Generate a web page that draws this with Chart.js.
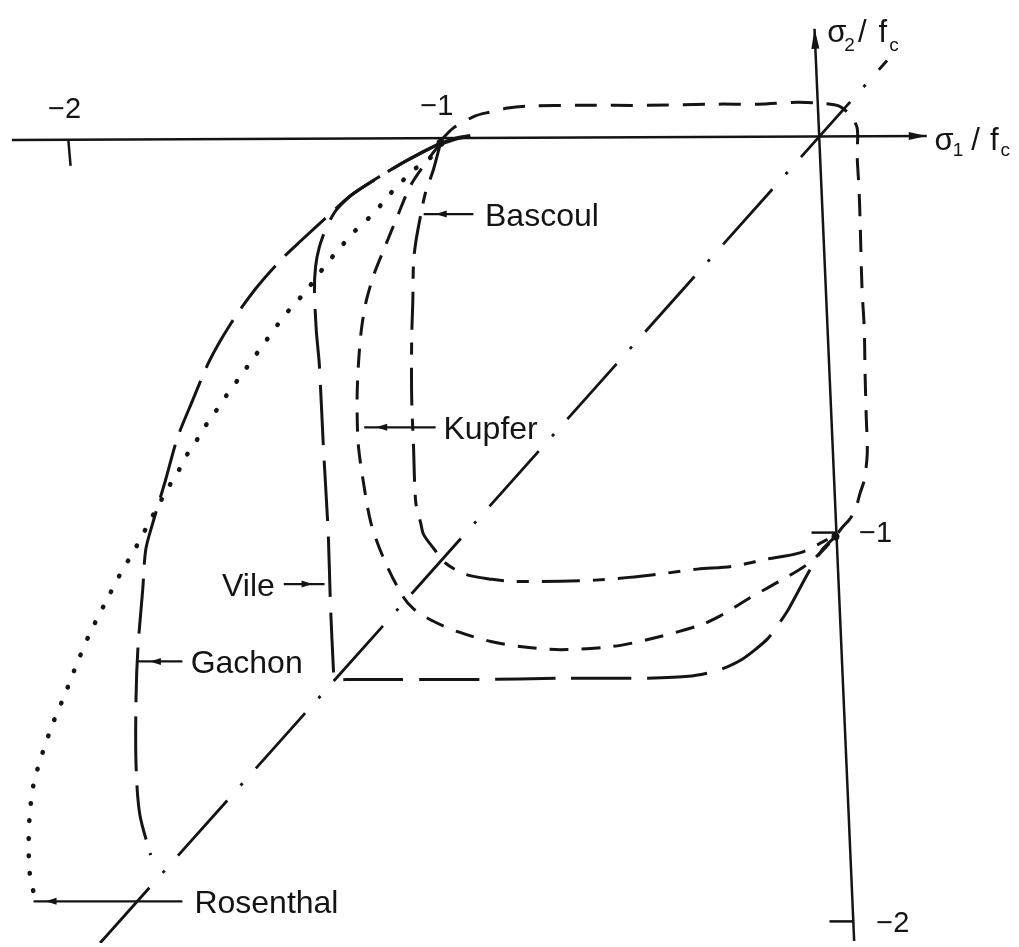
<!DOCTYPE html>
<html>
<head>
<meta charset="utf-8">
<script src="https://cdn.jsdelivr.net/npm/chart.js@4/dist/chart.umd.min.js"></script>
<style>
  html, body { margin: 0; padding: 0; background: #fff; }
  canvas { display: block; }
</style>
</head>
<body>
<canvas id="envelope" width="1019" height="947"></canvas>
<script>
// Biaxial failure envelopes, sigma1/fc against sigma2/fc (compression negative)

const rosenthalS1 = [-1.000, -1.034, -1.072, -1.106, -1.141, -1.178, -1.207, -1.239, -1.271, -1.305, -1.363, -1.401, -1.435, -1.469, -1.504, -1.538, -1.573, -1.605, -1.631, -1.655, -1.682, -1.703, -1.727, -1.775, -1.822, -1.849, -1.891, -1.939, -1.971, -2.005, -2.034, -2.064, -2.088, -2.098, -2.101, -2.098, -2.082];
const rosenthalS2 = [-0.008, -0.053, -0.076, -0.109, -0.144, -0.187, -0.212, -0.242, -0.278, -0.316, -0.389, -0.429, -0.470, -0.515, -0.561, -0.606, -0.652, -0.697, -0.732, -0.770, -0.808, -0.848, -0.884, -0.967, -1.051, -1.093, -1.169, -1.260, -1.331, -1.414, -1.480, -1.561, -1.641, -1.717, -1.788, -1.869, -1.939];

const gachonS1 = [-1.000, -1.053, -1.106, -1.167, -1.239, -1.305, -1.371, -1.424, -1.496, -1.562, -1.618, -1.663, -1.703, -1.735, -1.769, -1.788, -1.796, -1.809, -1.814, -1.814, -1.804, -1.775];
const gachonS2 = [-0.008, -0.033, -0.061, -0.096, -0.141, -0.197, -0.255, -0.303, -0.381, -0.470, -0.563, -0.664, -0.758, -0.866, -0.975, -1.043, -1.144, -1.295, -1.422, -1.591, -1.717, -1.821];

const vileS1 = [-1.000, -1.106, -1.167, -1.239, -1.279, -1.305, -1.324, -1.334, -1.337, -1.332, -1.324, -1.313, -1.300, -1.294, -1.286, -1.284, -1.252, -1.106, -0.894, -0.682, -0.469, -0.337, -0.257, -0.191, -0.125, -0.072, -0.019, 0.021, 0.056];
const vileS2 = [-0.008, -0.061, -0.096, -0.141, -0.179, -0.222, -0.273, -0.323, -0.386, -0.487, -0.571, -0.783, -1.005, -1.189, -1.354, -1.374, -1.374, -1.374, -1.374, -1.371, -1.371, -1.366, -1.351, -1.321, -1.270, -1.199, -1.106, -1.043, -1.010];

const kupferS1 = [-1.000, -1.034, -1.080, -1.114, -1.151, -1.178, -1.199, -1.212, -1.220, -1.223, -1.220, -1.207, -1.186, -1.151, -1.101, -1.072, -1.027, -0.952, -0.862, -0.788, -0.679, -0.541, -0.448, -0.310, -0.252, -0.178, -0.098, -0.027, 0.016, 0.056];
const kupferS2 = [-0.008, -0.051, -0.116, -0.192, -0.278, -0.343, -0.412, -0.487, -0.581, -0.664, -0.773, -0.866, -0.975, -1.068, -1.162, -1.194, -1.222, -1.253, -1.278, -1.290, -1.298, -1.290, -1.273, -1.237, -1.212, -1.169, -1.126, -1.086, -1.051, -1.010];

const bascoulS1 = [-1.000, -1.019, -1.040, -1.053, -1.066, -1.072, -1.074, -1.077, -1.077, -1.072, -1.066, -1.053, -1.045, -1.016, -0.989, -0.934, -0.862, -0.806, -0.679, -0.586, -0.496, -0.403, -0.313, -0.220, -0.130, -0.037, 0.034, 0.056];
const bascoulS2 = [-0.008, -0.076, -0.134, -0.192, -0.260, -0.311, -0.412, -0.505, -0.657, -0.783, -0.924, -0.975, -1.005, -1.043, -1.076, -1.106, -1.119, -1.124, -1.124, -1.121, -1.114, -1.104, -1.093, -1.086, -1.068, -1.051, -1.018, -1.010];

// tension-compression branch closing the envelope above and right of the axes
const tensionS1 = [-1.000, -0.966, -0.907, -0.867, -0.820, -0.761, -0.629, -0.443, -0.257, -0.151, -0.045, 0.021, 0.066, 0.095, 0.114, 0.114, 0.119, 0.122, 0.127, 0.133, 0.135, 0.138, 0.141, 0.133, 0.122, 0.109, 0.093, 0.074, 0.056];
const tensionS2 = [-0.003, 0.030, 0.061, 0.071, 0.081, 0.086, 0.088, 0.088, 0.091, 0.091, 0.096, 0.093, 0.086, 0.063, 0.030, -0.040, -0.126, -0.210, -0.379, -0.480, -0.588, -0.697, -0.798, -0.866, -0.899, -0.942, -0.967, -0.987, -1.010];

const stubS1 = [-1.000, -0.960, -0.920];
const stubS2 = [-0.010, 0.003, 0.010];

// sigma1 = sigma2 line
const diagonalS1 = [-1.910, 0.194];
const diagonalS2 = [-2.045, 0.202];

// uniaxial strength points
const nodeS1 = [-1.000, 0.056];
const nodeS2 = [-0.008, -1.010];

// axes and tick marks
const xAxisS1 = [-2.146, 0.300];
const xAxisS2 = [0.000, 0.010];
const yAxisS1 = [0.106, 0.000];
const yAxisS2 = [-2.040, 0.283];
const tickX2S1 = [-1.995, -1.989];
const tickX2S2 = [0.000, -0.066];
const tickY1S1 = [-0.008, 0.056];
const tickY1S2 = [-1.000, -1.000];
const tickY2S1 = [0.040, 0.106];
const tickY2S2 = [-1.990, -1.990];

const tickText = ['\u22122', '\u22121', '\u22121', '\u22122'];
const tickS1 = [-2.005, -1.010, 0.119, 0.165];
const tickS2 = [0.076, 0.083, -1.003, -1.997];
const tickAlign = ['center', 'center', 'left', 'left'];

// curve names with their leader arrows
const notes = [
  { text: 'Bascoul',   s1: -0.881, s2: -0.189, from: -0.912, to: -1.045, align: 'left' },
  { text: 'Kupfer',    s1: -0.992, s2: -0.732, from: -1.013, to: -1.204, align: 'left' },
  { text: 'Vile',      s1: -1.443, s2: -1.131, from: -1.419, to: -1.310, align: 'right' },
  { text: 'Gachon',    s1: -1.668, s2: -1.328, from: -1.690, to: -1.809, align: 'left' },
  { text: 'Rosenthal', s1: -1.658, s2: -1.939, from: -1.690, to: -2.088, align: 'left' }
];

const ink = '#141414';
const face = '"Liberation Sans", "DejaVu Sans", sans-serif';

function pts(s1, s2) {
  return s1.map((v, i) => ({ x: v, y: s2[i] }));
}

function line(label, s1, s2, extra) {
  return Object.assign({
    label: label,
    data: pts(s1, s2),
    showLine: true,
    borderColor: ink,
    backgroundColor: ink,
    borderWidth: 3,
    pointRadius: 0,
    tension: 0,
    fill: false
  }, extra || {});
}

function arrowHead(ctx, x0, y0, x1, y1, len, half) {
  const a = Math.atan2(y1 - y0, x1 - x0);
  const c = Math.cos(a), s = Math.sin(a);
  ctx.beginPath();
  ctx.moveTo(x1, y1);
  ctx.lineTo(x1 - len * c + half * s, y1 - len * s - half * c);
  ctx.lineTo(x1 - len * c - half * s, y1 - len * s + half * c);
  ctx.closePath();
  ctx.fill();
}

function drawParts(ctx, x, y, parts) {
  parts.forEach(p => {
    x += p.gap || 0;
    ctx.font = p.size + 'px ' + face;
    ctx.fillText(p.t, x, y + (p.dy || 0));
    x += ctx.measureText(p.t).width;
  });
}

const sketch = {
  id: 'sketch',
  afterDatasetsDraw(chart) {
    const ctx = chart.ctx;
    const sx = chart.scales.x, sy = chart.scales.y;
    const px = v => sx.getPixelForValue(v);
    const py = v => sy.getPixelForValue(v);

    ctx.save();
    ctx.fillStyle = ink;
    ctx.strokeStyle = ink;

    // axis arrows
    arrowHead(ctx, px(xAxisS1[0]), py(xAxisS2[0]), px(xAxisS1[1]), py(xAxisS2[1]), 18, 4);
    arrowHead(ctx, px(yAxisS1[0]), py(yAxisS2[0]), px(yAxisS1[1]), py(yAxisS2[1]), 20, 4);

    // tick labels
    ctx.font = '29px ' + face;
    ctx.textBaseline = 'middle';
    tickText.forEach((t, i) => {
      ctx.textAlign = tickAlign[i];
      ctx.fillText(t, px(tickS1[i]), py(tickS2[i]));
    });

    // axis titles
    ctx.textAlign = 'left';
    ctx.textBaseline = 'alphabetic';
    drawParts(ctx, px(0.034), py(0.250), [
      { t: '\u03C3', size: 31 },
      { t: '2', size: 19, dy: 9, gap: -2 },
      { t: '/', size: 31, gap: 3 },
      { t: 'f', size: 31, gap: 12 },
      { t: 'c', size: 19, dy: 9, gap: 2 }
    ]);
    drawParts(ctx, px(0.321), py(-0.025), [
      { t: '\u03C3', size: 31 },
      { t: '1', size: 19, dy: 6, gap: -1 },
      { t: '/', size: 31, gap: 8 },
      { t: 'f', size: 31, gap: 10 },
      { t: 'c', size: 19, dy: 6, gap: 2 }
    ]);

    // curve names with leader arrows
    ctx.font = '32px ' + face;
    ctx.lineWidth = 2.2;
    notes.forEach(n => {
      const y = py(n.s2);
      const x0 = px(n.from), x1 = px(n.to);
      ctx.beginPath();
      ctx.moveTo(x0, y);
      ctx.lineTo(x1, y);
      ctx.stroke();
      const dir = Math.sign(x1 - x0);
      arrowHead(ctx, x0, y, x1 - dir * 12, y, 11, 3.5);
      ctx.textAlign = n.align;
      ctx.fillText(n.text, px(n.s1), y + 11.5);
    });

    ctx.restore();
  }
};

new Chart(document.getElementById('envelope'), {
  type: 'scatter',
  data: {
    datasets: [
      line('axis x', xAxisS1, xAxisS2, { borderWidth: 2.5 }),
      line('axis y', yAxisS1, yAxisS2, { borderWidth: 2.5 }),
      line('tick -2', tickX2S1, tickX2S2, { borderWidth: 2.5 }),
      line('tick -1', tickY1S1, tickY1S2, { borderWidth: 2.5 }),
      line('tick -2 y', tickY2S1, tickY2S2, { borderWidth: 2.5 }),
      line('sigma1 = sigma2', diagonalS1, diagonalS2, { borderWidth: 2.8, borderDash: [74, 20, 3, 20] }),
      line('Rosenthal', rosenthalS1, rosenthalS2, { borderWidth: 4.6, borderDash: [0.5, 17], borderCapStyle: 'round', tension: 0.3 }),
      line('Gachon', gachonS1, gachonS2, { borderDash: [55, 14], tension: 0.3 }),
      line('Vile', vileS1, vileS2, { borderDash: [60, 16], tension: 0.2 }),
      line('Kupfer', kupferS1, kupferS2, { borderDash: [19, 13], tension: 0.3 }),
      line('Bascoul', bascoulS1, bascoulS2, { borderDash: [38, 13, 12, 13], tension: 0.3 }),
      line('tension branch', tensionS1, tensionS2, { borderDash: [22, 14], tension: 0.3 }),
      line('stub', stubS1, stubS2, { borderWidth: 4, tension: 0.3 }),
      { label: 'uniaxial', data: pts(nodeS1, nodeS2), pointRadius: 4, pointBackgroundColor: ink, pointBorderWidth: 0, showLine: false }
    ]
  },
  options: {
    responsive: false,
    animation: false,
    devicePixelRatio: 1,
    layout: { padding: 0 },
    plugins: {
      legend: { display: false },
      tooltip: { enabled: false }
    },
    scales: {
      x: { type: 'linear', min: -2.167, max: 0.536, display: false },
      y: { type: 'linear', min: -2.045, max: 0.346, display: false }
    }
  },
  plugins: [sketch]
});
</script>
</body>
</html>
